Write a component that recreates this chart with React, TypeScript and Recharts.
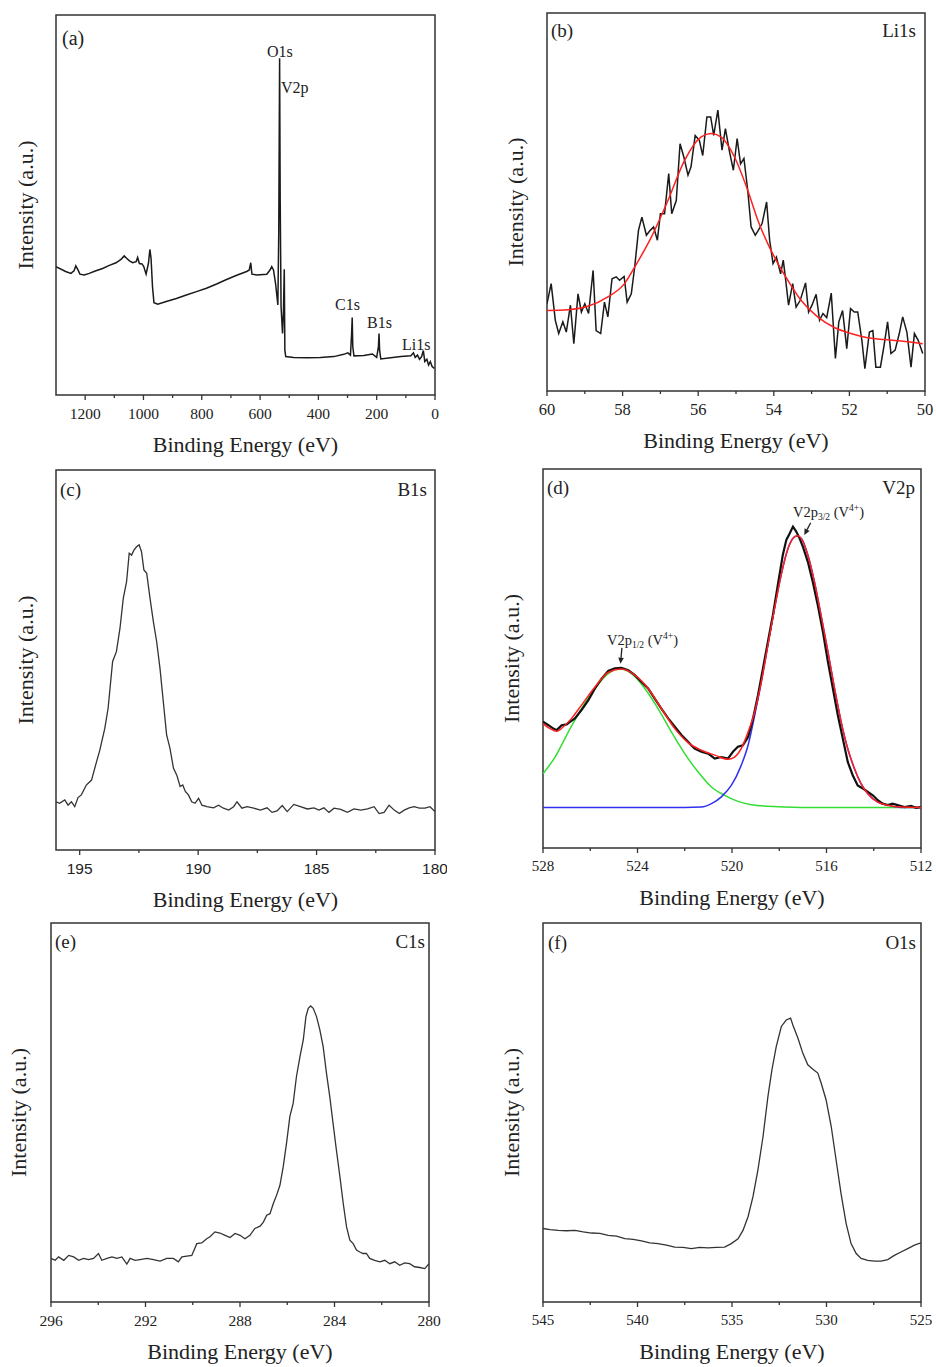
import React from "react";
import { Line, LineChart, ReferenceArea, ReferenceLine, XAxis, YAxis } from "recharts";

// (a) survey spectrum
const surveyEnergy = [1300, 1267, 1249, 1238, 1232, 1225, 1218, 1203, 1186, 1163, 1140, 1117, 1094, 1077, 1066, 1058, 1048, 1037, 1025, 1020, 1014, 1005, 999, 991, 983, 978, 974, 969, 964, 951, 922, 887, 853, 818, 784, 749, 715, 680, 646, 637, 632, 628, 612, 577, 566, 560, 554, 547, 539, 536, 533, 531, 528, 523, 520, 517, 515, 512, 485, 439, 393, 347, 313, 299, 290, 286, 284, 282, 278, 244, 215, 200, 194, 192, 190, 186, 152, 117, 83, 74, 68, 60, 53, 46, 40, 35, 28, 22, 16, 10, 2];
const surveyCounts = [33.8, 32.5, 32.0, 32.7, 34.0, 33.0, 31.8, 31.6, 32.0, 32.7, 33.3, 34.1, 34.8, 35.7, 36.6, 36.0, 35.3, 34.8, 35.1, 36.2, 34.6, 34.5, 33.8, 31.8, 34.6, 38.3, 36.0, 28.5, 24.3, 23.9, 24.6, 25.4, 26.3, 27.2, 28.1, 29.2, 30.4, 31.5, 32.5, 32.9, 34.8, 31.8, 31.6, 31.8, 32.9, 33.8, 32.9, 29.4, 23.7, 42.5, 88.6, 51.3, 23.2, 16.2, 21.5, 33.1, 11.8, 10.1, 9.9, 9.8, 9.9, 10.1, 10.7, 11.1, 10.5, 16.2, 20.4, 12.7, 10.3, 10.4, 10.8, 9.9, 12.7, 16.2, 11.8, 9.5, 9.8, 10.1, 10.3, 11.1, 9.9, 10.5, 9.4, 10.1, 11.7, 8.8, 9.4, 7.9, 8.8, 7.5, 7.0];

// (b) Li1s raw + fit
const liEnergy = [60.0, 59.89, 59.78, 59.69, 59.58, 59.49, 59.38, 59.29, 59.18, 59.09, 59.0, 58.9, 58.78, 58.7, 58.58, 58.48, 58.39, 58.28, 58.17, 58.08, 57.96, 57.88, 57.77, 57.68, 57.58, 57.49, 57.37, 57.27, 57.18, 57.08, 57.0, 56.89, 56.78, 56.7, 56.58, 56.48, 56.38, 56.27, 56.19, 56.08, 55.97, 55.88, 55.77, 55.67, 55.59, 55.48, 55.37, 55.28, 55.17, 55.07, 54.97, 54.88, 54.79, 54.69, 54.6, 54.49, 54.41, 54.31, 54.19, 54.11, 54.02, 53.93, 53.82, 53.75, 53.7, 53.61, 53.5, 53.41, 53.3, 53.16, 53.08, 52.99, 52.88, 52.79, 52.7, 52.6, 52.48, 52.37, 52.28, 52.18, 52.07, 51.97, 51.87, 51.78, 51.67, 51.59, 51.47, 51.38, 51.3, 51.18, 51.09, 50.99, 50.9, 50.79, 50.68, 50.59, 50.48, 50.37, 50.28, 50.18, 50.06];
const liCounts = [23.1, 28.4, 18.7, 15.2, 18.3, 15.6, 22.7, 12.5, 25.7, 20.9, 23.1, 20.5, 31.9, 16.0, 15.2, 23.5, 19.6, 29.7, 30.2, 29.3, 30.3, 23.5, 25.7, 32.8, 42.5, 46.0, 41.2, 42.5, 43.4, 39.9, 46.9, 46.9, 57.5, 46.9, 50.4, 65.4, 61.9, 57.1, 59.3, 67.6, 66.3, 62.3, 72.5, 72.5, 67.6, 74.3, 63.7, 69.4, 63.2, 58.4, 66.8, 60.1, 61.5, 53.1, 43.4, 41.2, 42.5, 44.3, 50.0, 39.9, 33.7, 35.4, 31.0, 34.6, 30.6, 22.7, 28.4, 22.2, 24.0, 28.6, 20.9, 22.7, 25.6, 18.7, 20.5, 19.4, 25.9, 8.6, 18.3, 21.3, 11.2, 21.8, 20.9, 20.9, 13.4, 5.9, 15.6, 16.0, 6.3, 6.3, 11.6, 18.3, 9.9, 10.8, 15.2, 19.6, 15.6, 6.3, 15.2, 13.4, 9.9];
const liFitEnergy = [60.0, 59.44, 58.92, 58.39, 57.95, 57.68, 57.24, 56.8, 56.36, 55.92, 55.66, 55.4, 55.04, 54.69, 54.42, 54.16, 53.89, 53.63, 53.28, 52.84, 52.4, 51.96, 51.52, 51.07, 50.63, 50.06];
const liFitCounts = [21.3, 21.5, 22.4, 24.9, 28.4, 32.8, 40.7, 50.4, 61.0, 67.2, 68.1, 67.2, 61.9, 53.1, 45.1, 39.0, 33.7, 29.3, 24.0, 19.6, 16.8, 15.2, 14.1, 13.6, 13.2, 12.5];

// (c) B1s
const boronEnergy = [196.0, 195.85, 195.63, 195.49, 195.35, 195.21, 195.07, 194.93, 194.72, 194.5, 194.29, 194.15, 193.94, 193.8, 193.61, 193.45, 193.3, 193.16, 193.02, 192.91, 192.81, 192.71, 192.6, 192.49, 192.39, 192.29, 192.17, 192.03, 191.89, 191.75, 191.61, 191.47, 191.33, 191.19, 191.04, 190.9, 190.76, 190.65, 190.54, 190.41, 190.27, 190.13, 189.98, 189.84, 189.63, 189.35, 189.14, 188.93, 188.71, 188.5, 188.36, 188.15, 187.94, 187.65, 187.37, 187.09, 186.88, 186.67, 186.45, 186.24, 185.96, 185.68, 185.39, 185.11, 184.9, 184.69, 184.48, 184.26, 183.98, 183.7, 183.42, 183.13, 182.85, 182.57, 182.36, 182.15, 181.94, 181.72, 181.51, 181.3, 181.09, 180.88, 180.66, 180.42, 180.21, 180.0];
const boronCounts = [12.7, 12.3, 13.2, 11.8, 12.7, 11.4, 13.8, 14.5, 17.1, 18.4, 23.2, 26.3, 32.0, 37.3, 49.6, 52.2, 58.3, 66.2, 70.6, 78.1, 77.6, 78.9, 79.8, 80.3, 78.5, 73.7, 72.8, 66.2, 60.1, 54.8, 47.8, 39.0, 30.3, 26.8, 21.5, 19.7, 16.7, 17.1, 15.4, 14.5, 12.7, 12.3, 13.6, 11.8, 11.4, 11.1, 11.8, 11.0, 10.5, 11.4, 12.7, 11.0, 11.4, 11.0, 10.5, 11.1, 9.9, 10.3, 11.7, 10.1, 12.0, 11.4, 10.8, 11.1, 10.5, 11.1, 9.9, 11.0, 10.7, 9.9, 10.8, 10.5, 10.8, 11.4, 9.6, 9.9, 11.8, 10.5, 9.6, 10.5, 11.1, 11.4, 11.0, 11.0, 11.4, 10.1];

// (d) V2p raw, envelope and components
const vEnergy = [528.0, 527.77, 527.56, 527.42, 527.21, 527.0, 526.86, 526.65, 526.37, 526.08, 525.8, 525.52, 525.24, 524.96, 524.68, 524.39, 524.11, 523.83, 523.55, 523.27, 522.99, 522.7, 522.42, 522.14, 521.86, 521.58, 521.3, 521.01, 520.73, 520.45, 520.17, 519.96, 519.75, 519.54, 519.32, 519.11, 518.9, 518.69, 518.48, 518.27, 518.06, 517.85, 517.7, 517.56, 517.42, 517.28, 517.14, 517.0, 516.79, 516.58, 516.37, 516.15, 515.94, 515.73, 515.52, 515.31, 515.1, 514.89, 514.68, 514.46, 514.25, 514.04, 513.83, 513.62, 513.41, 513.2, 512.99, 512.7, 512.42, 512.21, 512.0];
const vCounts = [33.3, 32.4, 31.5, 31.1, 32.4, 32.6, 33.3, 34.2, 36.4, 39.0, 42.1, 44.7, 46.7, 47.4, 47.5, 46.9, 45.6, 43.8, 42.1, 39.4, 36.8, 34.2, 32.0, 29.8, 28.0, 26.2, 25.4, 24.9, 23.6, 24.0, 23.6, 25.4, 26.7, 27.1, 29.3, 34.2, 40.3, 47.4, 54.4, 61.4, 69.4, 77.3, 81.3, 83.0, 84.8, 83.5, 81.7, 79.5, 75.5, 70.2, 64.1, 57.0, 49.1, 42.1, 35.0, 28.9, 22.7, 19.2, 16.5, 15.7, 14.8, 13.9, 12.6, 11.7, 11.3, 11.7, 11.3, 10.8, 11.1, 10.6, 10.8];
const vFitEnergy = [528.0, 527.7, 527.42, 527.14, 526.79, 526.37, 525.8, 525.24, 524.68, 524.11, 523.55, 522.99, 522.42, 521.86, 521.3, 520.73, 520.17, 519.89, 519.61, 519.32, 519.04, 518.76, 518.48, 518.2, 517.92, 517.63, 517.35, 517.21, 517.07, 516.79, 516.51, 516.23, 515.94, 515.66, 515.38, 515.1, 514.82, 514.54, 514.25, 513.83, 513.41, 512.85, 512.0];
const vFitCounts = [32.8, 31.5, 30.8, 32.0, 34.2, 37.7, 42.5, 46.3, 47.2, 45.6, 42.1, 36.8, 31.5, 27.8, 25.8, 24.5, 23.4, 24.0, 26.2, 30.6, 35.9, 43.8, 53.5, 63.2, 72.0, 79.0, 82.1, 82.4, 81.7, 77.3, 70.2, 61.4, 51.8, 42.1, 33.3, 26.2, 21.0, 17.0, 14.3, 12.1, 11.3, 10.8, 10.7];
const vHalfEnergy = [528.0, 527.49, 526.93, 526.37, 525.8, 525.24, 524.75, 524.25, 523.69, 523.13, 522.56, 522.0, 521.44, 520.87, 520.31, 519.75, 519.18, 518.48, 517.07, 512.0];
const vHalfCounts = [19.6, 24.0, 30.6, 36.8, 42.1, 46.0, 47.2, 46.0, 42.1, 36.8, 30.6, 24.9, 20.1, 16.1, 13.9, 12.3, 11.4, 11.0, 10.7, 10.7];
const vThreeHalfEnergy = [528.0, 522.0, 521.3, 520.87, 520.45, 520.03, 519.61, 519.32, 519.04, 518.76, 518.48, 518.2, 517.92, 517.63, 517.28, 517.07, 516.79, 516.51, 516.23, 515.94, 515.66, 515.38, 515.1, 514.82, 514.54, 514.25, 513.83, 513.41, 512.85, 512.0];
const vThreeHalfCounts = [10.7, 10.7, 10.8, 11.7, 13.5, 16.5, 21.8, 27.1, 35.0, 43.8, 53.5, 63.2, 72.0, 79.0, 82.3, 81.7, 77.3, 70.2, 61.4, 51.8, 42.1, 33.3, 26.2, 21.0, 17.0, 14.3, 12.1, 11.3, 10.7, 10.7];

// (e) C1s
const carbonEnergy = [296.0, 295.82, 295.68, 295.46, 295.25, 295.04, 294.83, 294.62, 294.41, 294.2, 293.99, 293.85, 293.63, 293.42, 293.21, 293.0, 292.79, 292.65, 292.44, 292.23, 291.94, 291.66, 291.38, 291.1, 290.82, 290.61, 290.46, 290.25, 290.04, 289.83, 289.62, 289.41, 289.27, 289.06, 288.85, 288.63, 288.42, 288.21, 288.0, 287.79, 287.58, 287.37, 287.15, 287.01, 286.87, 286.73, 286.59, 286.45, 286.31, 286.17, 286.03, 285.89, 285.75, 285.61, 285.46, 285.32, 285.21, 285.11, 285.01, 284.9, 284.76, 284.62, 284.48, 284.34, 284.2, 284.06, 283.92, 283.77, 283.63, 283.49, 283.35, 283.21, 283.07, 282.93, 282.79, 282.65, 282.51, 282.3, 282.08, 281.87, 281.66, 281.45, 281.24, 281.03, 280.82, 280.61, 280.39, 280.18, 280.0];
const carbonCounts = [11.5, 11.0, 11.9, 11.0, 12.3, 11.9, 11.0, 11.5, 11.2, 11.5, 12.8, 11.0, 11.5, 11.9, 11.5, 11.9, 10.0, 11.5, 11.0, 11.2, 11.5, 11.2, 10.8, 11.5, 11.5, 10.6, 11.9, 12.1, 12.3, 15.4, 15.6, 16.7, 17.2, 18.5, 18.2, 17.6, 17.0, 18.1, 17.6, 16.7, 17.6, 19.4, 20.0, 21.1, 22.9, 23.3, 26.0, 28.2, 30.8, 35.7, 41.9, 48.9, 52.4, 59.5, 64.8, 69.2, 75.3, 77.5, 78.1, 77.5, 75.3, 71.8, 67.4, 60.4, 54.2, 47.1, 40.1, 33.0, 26.0, 19.8, 16.3, 15.4, 13.7, 13.2, 12.8, 12.8, 11.5, 11.0, 10.6, 11.0, 10.1, 10.6, 9.7, 10.3, 10.1, 9.3, 9.1, 8.8, 10.1];

// (f) O1s
const oxygenEnergy = [545.0, 544.63, 544.19, 543.75, 543.31, 542.87, 542.43, 541.99, 541.55, 541.11, 540.67, 540.23, 539.79, 539.35, 538.91, 538.47, 538.03, 537.59, 537.15, 536.71, 536.27, 535.83, 535.39, 535.04, 534.68, 534.42, 534.15, 533.89, 533.63, 533.36, 533.1, 532.89, 532.66, 532.39, 532.13, 531.9, 531.78, 531.51, 531.25, 530.99, 530.72, 530.46, 530.28, 530.02, 529.75, 529.49, 529.23, 528.96, 528.7, 528.43, 528.17, 527.82, 527.46, 527.11, 526.76, 526.41, 526.06, 525.7, 525.35, 525.0];
const oxygenCounts = [19.4, 19.1, 18.9, 18.8, 18.9, 18.5, 18.2, 18.1, 17.6, 17.4, 16.7, 16.5, 16.1, 15.6, 15.4, 15.0, 14.5, 14.4, 14.1, 14.4, 14.3, 14.4, 14.5, 15.4, 16.7, 18.9, 22.5, 27.8, 34.8, 43.6, 54.2, 61.2, 67.4, 72.7, 74.4, 74.9, 73.1, 69.6, 65.6, 62.6, 61.4, 60.4, 57.7, 53.3, 46.3, 37.4, 28.6, 20.7, 15.4, 12.8, 11.5, 11.0, 10.8, 10.8, 11.2, 12.3, 13.2, 14.1, 15.0, 15.6];

// tick values per panel
const surveyTicks = [1200, 1000, 800, 600, 400, 200, 0];
const surveyMinor = [1100, 900, 700, 500, 300, 100];
const liTicks = [60, 58, 56, 54, 52, 50];
const liMinor = [59, 57, 55, 53, 51];
const boronTicks = [195, 190, 185, 180];
const boronMinor = [192.5, 187.5, 182.5];
const vTicks = [528, 524, 520, 516, 512];
const vMinor = [526, 522, 518, 514];
const carbonTicks = [296, 292, 288, 284, 280];
const carbonMinor = [294, 290, 286, 282];
const oxygenTicks = [545, 540, 535, 530, 525];
const oxygenMinor = [542.5, 537.5, 532.5, 527.5];

const AXIS = "#333";
const SERIF = '"Liberation Serif", "Times New Roman", serif';
const SANS = '"Liberation Sans", Arial, sans-serif';

type Frame = { x: number; y: number; w: number; h: number };
type Trace = { energy: number[]; counts: number[]; color: string; width: number; smooth?: boolean };
type Arrow = { from: [number, number]; to: [number, number] };

const zip = (energy: number[], counts: number[]) => energy.map((x, i) => ({ x, y: counts[i] }));

const arrowShape = (p: any) => {
  const { x1, y1, x2, y2 } = p;
  const ang = Math.atan2(y2 - y1, x2 - x1);
  const L = 6;
  const W = 2.8;
  const bx = x2 - L * Math.cos(ang);
  const by = y2 - L * Math.sin(ang);
  const pts = `${x2},${y2} ${bx + W * Math.sin(ang)},${by - W * Math.cos(ang)} ${bx - W * Math.sin(ang)},${by + W * Math.cos(ang)}`;
  return (
    <g>
      <line x1={x1} y1={y1} x2={bx} y2={by} stroke="#222" strokeWidth={1.3} />
      <polygon points={pts} fill="#222" />
    </g>
  );
};

interface PanelProps {
  frame: Frame;
  domain: [number, number];
  major: number[];
  minor: number[];
  tickFont: string;
  tickSize: number;
  traces: Trace[];
  arrows?: Arrow[];
  yTitleGap?: number;
}

function Panel({ frame, domain, major, minor, tickFont, tickSize, traces, arrows = [], yTitleGap = 31 }: PanelProps) {
  const padL = 45;
  const padT = 5;
  const padR = 12;
  const axisH = 64;
  const majorSet = new Set(major);
  const ticks = [...major, ...minor].sort((a, b) => a - b);

  const renderTick = (p: any) => {
    const v = p.payload.value;
    const isMajor = majorSet.has(v);
    return (
      <g>
        <line x1={p.x} x2={p.x} y1={p.y} y2={p.y + (isMajor ? 5 : 3)} stroke={AXIS} strokeWidth={1.3} />
        {isMajor && (
          <text x={p.x} y={p.y + 18} textAnchor="middle" dominantBaseline="central" fontFamily={tickFont} fontSize={tickSize} fill="#222">
            {v}
          </text>
        )}
      </g>
    );
  };

  // both axis titles are drawn from the x axis label, the y one is placed off the plot's left edge
  const renderTitles = (p: any) => {
    const vb = p.viewBox;
    const cx = vb.x - yTitleGap;
    const cy = vb.y - frame.h / 2;
    return (
      <g fontFamily={SERIF} fontSize={22} fill="#222">
        <text x={vb.x + vb.width / 2} y={vb.y + 49} textAnchor="middle" dominantBaseline="central">
          Binding Energy (eV)
        </text>
        <text x={cx} y={cy} transform={`rotate(-90 ${cx} ${cy})`} textAnchor="middle" dominantBaseline="central">
          Intensity (a.u.)
        </text>
      </g>
    );
  };

  return (
    <div style={{ position: "absolute", left: frame.x - padL, top: frame.y - padT }}>
      <LineChart
        width={frame.w + padL + padR}
        height={frame.h + padT + axisH}
        margin={{ top: padT, right: padR, bottom: 0, left: padL }}
      >
        <XAxis
          type="number"
          dataKey="x"
          domain={domain}
          reversed
          allowDataOverflow
          ticks={ticks}
          interval={0}
          tick={renderTick}
          tickLine={false}
          tickSize={0}
          tickMargin={0}
          axisLine={false}
          height={axisH}
          label={{ content: renderTitles }}
        />
        <YAxis type="number" domain={[0, 100]} allowDataOverflow width={0} tick={false} tickLine={false} axisLine={false} />
        <ReferenceArea x1={domain[0]} x2={domain[1]} y1={0} y2={100} fill="none" fillOpacity={0} stroke={AXIS} strokeWidth={1.5} />
        {traces.map((t, i) => (
          <Line
            key={i}
            data={zip(t.energy, t.counts)}
            dataKey="y"
            type={t.smooth ? "monotone" : "linear"}
            stroke={t.color}
            strokeWidth={t.width}
            dot={false}
            activeDot={false}
            isAnimationActive={false}
          />
        ))}
        {arrows.map((a, i) => (
          <ReferenceLine
            key={`arrow-${i}`}
            segment={[
              { x: a.from[0], y: a.from[1] },
              { x: a.to[0], y: a.to[1] },
            ]}
            shape={arrowShape}
          />
        ))}
      </LineChart>
    </div>
  );
}

function Annotations() {
  const t = { fontFamily: SERIF, fill: "#222" };
  return (
    <svg width={936} height={1367} style={{ position: "absolute", left: 0, top: 0, pointerEvents: "none" }}>
      {/* (a) */}
      <text x={62} y={45} fontSize={20} {...t}>(a)</text>
      <text x={267} y={57} fontSize={16} {...t}>O1s</text>
      <text x={281} y={93} fontSize={16} {...t}>V2p</text>
      <text x={335} y={310} fontSize={16} {...t}>C1s</text>
      <text x={367} y={328} fontSize={16} {...t}>B1s</text>
      <text x={402} y={350} fontSize={16} {...t}>Li1s</text>
      {/* (b) */}
      <text x={551} y={37} fontSize={19} {...t}>(b)</text>
      <text x={916} y={37} fontSize={19} textAnchor="end" {...t}>Li1s</text>
      {/* (c) */}
      <text x={60} y={496} fontSize={19} {...t}>(c)</text>
      <text x={427} y={496} fontSize={19} textAnchor="end" {...t}>B1s</text>
      {/* (d) */}
      <text x={547} y={494} fontSize={19} {...t}>(d)</text>
      <text x={915} y={494} fontSize={19} textAnchor="end" {...t}>V2p</text>
      <text x={793} y={517} fontSize={14.5} {...t}>
        V2p<tspan fontSize={9.5} dy={3}>3/2</tspan>
        <tspan dy={-3}> (V</tspan>
        <tspan fontSize={9.5} dy={-6}>4+</tspan>
        <tspan dy={6}>)</tspan>
      </text>
      <text x={607} y={645} fontSize={14.5} {...t}>
        V2p<tspan fontSize={9.5} dy={3}>1/2</tspan>
        <tspan dy={-3}> (V</tspan>
        <tspan fontSize={9.5} dy={-6}>4+</tspan>
        <tspan dy={6}>)</tspan>
      </text>
      {/* (e) */}
      <text x={55} y={948} fontSize={19} {...t}>(e)</text>
      <text x={425} y={948} fontSize={19} textAnchor="end" {...t}>C1s</text>
      {/* (f) */}
      <text x={548} y={949} fontSize={19} {...t}>(f)</text>
      <text x={916} y={949} fontSize={19} textAnchor="end" {...t}>O1s</text>
    </svg>
  );
}

export default function App() {
  return (
    <div style={{ position: "absolute", left: 0, top: 0, width: 936, height: 1367, background: "#fff", overflow: "hidden" }}>
      <Panel
        frame={{ x: 56, y: 15, w: 379, h: 380 }}
        domain={[0, 1300]}
        major={surveyTicks}
        minor={surveyMinor}
        tickFont={SERIF}
        tickSize={15.5}
        traces={[{ energy: surveyEnergy, counts: surveyCounts, color: "#1a1a1a", width: 1.5 }]}
      />
      <Panel
        frame={{ x: 547, y: 13, w: 378, h: 378 }}
        domain={[50, 60]}
        major={liTicks}
        minor={liMinor}
        tickFont={SERIF}
        tickSize={16.5}
        yTitleGap={32}
        traces={[
          { energy: liEnergy, counts: liCounts, color: "#1a1a1a", width: 1.5 },
          { energy: liFitEnergy, counts: liFitCounts, color: "#ff2020", width: 1.5, smooth: true },
        ]}
      />
      <Panel
        frame={{ x: 56, y: 470, w: 379, h: 380 }}
        domain={[180, 196]}
        major={boronTicks}
        minor={boronMinor}
        tickFont={SANS}
        tickSize={15.5}
        traces={[{ energy: boronEnergy, counts: boronCounts, color: "#333", width: 1.3 }]}
      />
      <Panel
        frame={{ x: 543, y: 469, w: 378, h: 379 }}
        domain={[512, 528]}
        major={vTicks}
        minor={vMinor}
        tickFont={SERIF}
        tickSize={15}
        yTitleGap={32}
        traces={[
          { energy: vHalfEnergy, counts: vHalfCounts, color: "#33dd33", width: 1.5, smooth: true },
          { energy: vThreeHalfEnergy, counts: vThreeHalfCounts, color: "#3030ee", width: 1.5, smooth: true },
          { energy: vEnergy, counts: vCounts, color: "#111", width: 2.2 },
          { energy: vFitEnergy, counts: vFitCounts, color: "#ff2020", width: 1.5, smooth: true },
        ]}
        arrows={[
          { from: [516.67, 85.8], to: [516.94, 82.6] },
          { from: [524.66, 52.8], to: [524.72, 48.6] },
        ]}
      />
      <Panel
        frame={{ x: 51, y: 923, w: 378, h: 379 }}
        domain={[280, 296]}
        major={carbonTicks}
        minor={carbonMinor}
        tickFont={SERIF}
        tickSize={15.5}
        yTitleGap={33}
        traces={[{ energy: carbonEnergy, counts: carbonCounts, color: "#333", width: 1.3 }]}
      />
      <Panel
        frame={{ x: 543, y: 923, w: 378, h: 379 }}
        domain={[525, 545]}
        major={oxygenTicks}
        minor={oxygenMinor}
        tickFont={SERIF}
        tickSize={15}
        yTitleGap={32}
        traces={[{ energy: oxygenEnergy, counts: oxygenCounts, color: "#333", width: 1.3 }]}
      />
      <Annotations />
    </div>
  );
}
